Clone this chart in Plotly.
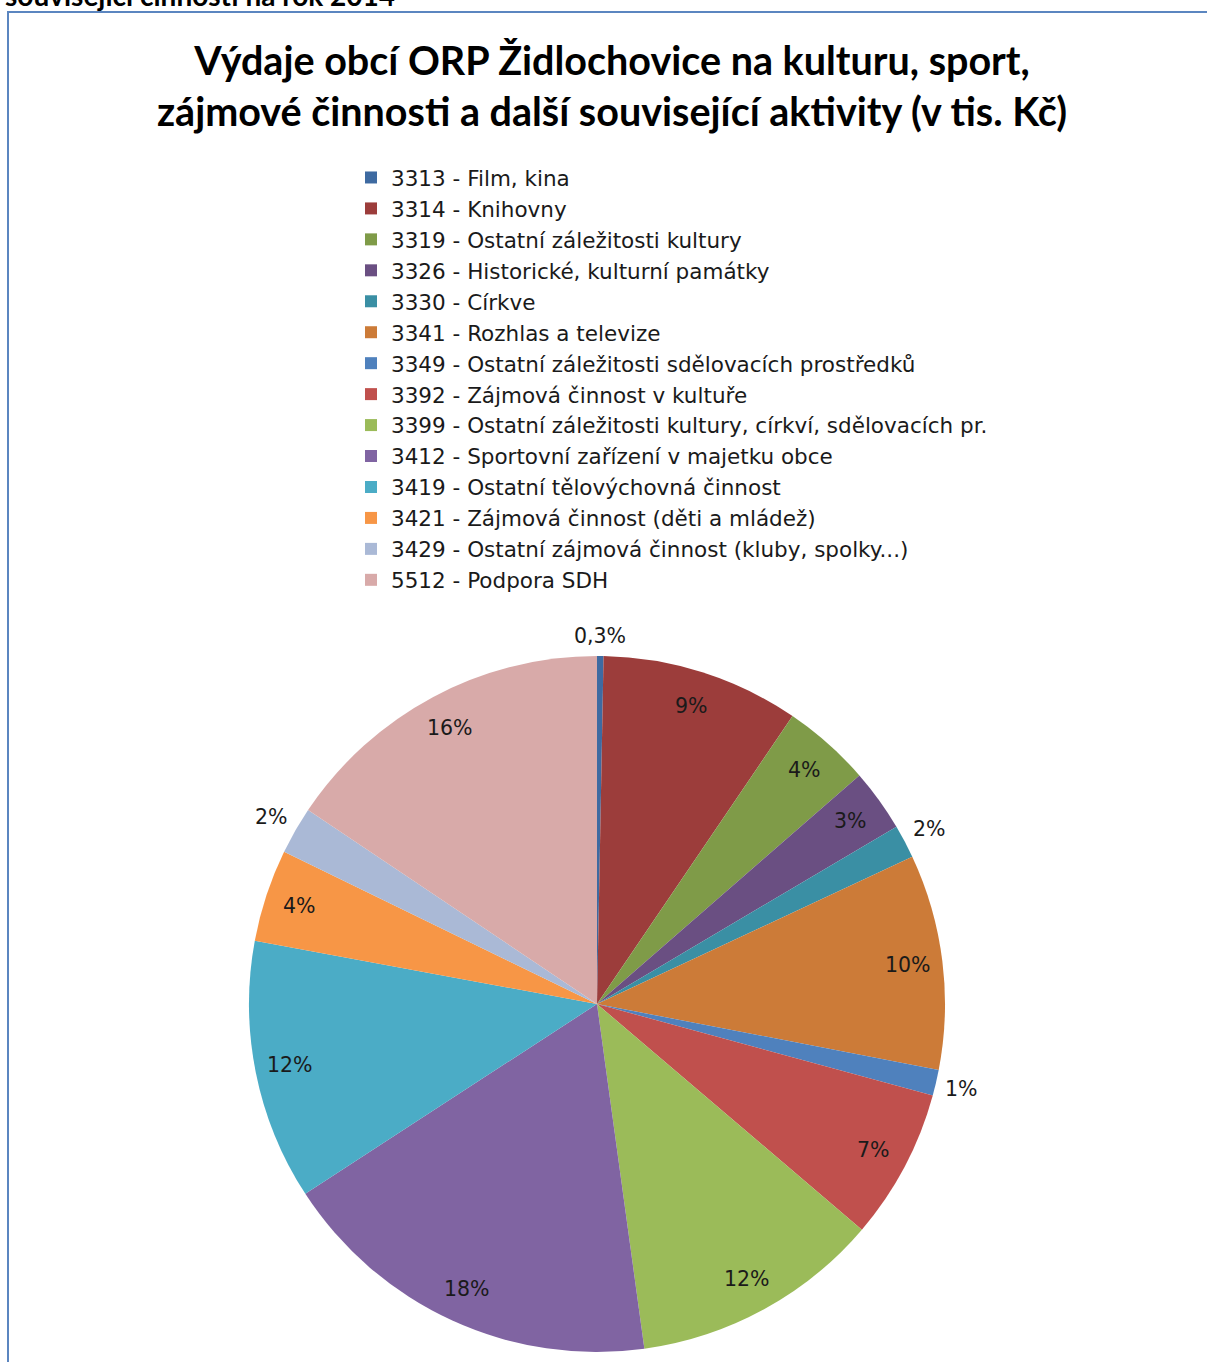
import math
import plotly.graph_objects as go

W, H = 1207, 1362

categories = [
    "3313 - Film, kina",
    "3314 - Knihovny",
    "3319 - Ostatní záležitosti kultury",
    "3326 - Historické, kulturní památky",
    "3330 - Církve",
    "3341 - Rozhlas a televize",
    "3349 - Ostatní záležitosti sdělovacích prostředků",
    "3392 - Zájmová činnost v kultuře",
    "3399 - Ostatní záležitosti kultury, církví, sdělovacích pr.",
    "3412 - Sportovní zařízení v majetku obce",
    "3419 - Ostatní tělovýchovná činnost",
    "3421 - Zájmová činnost (děti a mládež)",
    "3429 - Ostatní zájmová činnost (kluby, spolky...)",
    "5512 - Podpora SDH",
]
shares = [0.3, 9.2, 4.1, 2.9, 1.55, 10.0, 1.2, 7.0, 11.6, 18.0, 12.1, 4.3, 2.2, 15.6]
colors = ["#3E6AA1", "#9C3D3B", "#7F9B48", "#6A4F82", "#3A8FA4", "#CC7B38",
          "#4F81BD", "#C0504D", "#9BBB59", "#8064A2", "#4BACC6", "#F79646",
          "#AAB9D6", "#D8AAA9"]
label_outside = [True, False, False, False, True, False, True,
                 False, False, False, False, False, True, False]
label_decimals = [1] + [0] * 13

title_text = ("Výdaje obcí ORP Židlochovice na kulturu, sport,<br>"
              "zájmové činnosti a další související aktivity (v tis. Kč)")
top_text = "související činnosti na rok 2014"

TITLE_FONT = "Lato"
FONT = "DejaVu Sans"
LABEL_SIZE = 20.5

# pie placement (pixels)
PIE_CX, PIE_CY, PIE_R = 597, 1004, 348

fig = go.Figure()
fig.add_trace(go.Pie(
    labels=categories,
    values=shares,
    sort=False,
    direction="clockwise",
    rotation=0,
    marker=dict(colors=colors, line=dict(width=0)),
    textinfo="none",
    domain=dict(x=[(PIE_CX - PIE_R) / W, (PIE_CX + PIE_R) / W],
                y=[(H - PIE_CY - PIE_R) / H, (H - PIE_CY + PIE_R) / H]),
    hoverinfo="label+value+percent",
))

# data labels, positioned from the slice angles (Excel-style best fit)
total = sum(shares)
annotations = []
cum = 0.0
for v, outside, dec in zip(shares, label_outside, label_decimals):
    pct = v / total * 100
    mid = (cum + v / 2) / total * 2 * math.pi
    cum += v
    txt = (f"{pct:.{dec}f}".replace(".", ",") + "%") if dec else f"{int(pct + 0.5)}%"
    s, c = math.sin(mid), math.cos(mid)
    if outside:
        w_est = 11 * len(txt) + 10
        h_est = 24
        rad = PIE_R + 8 + (w_est / 2) * abs(s) + (h_est / 2) * abs(c)
    else:
        rad = 0.9 * PIE_R
    px = PIE_CX + rad * s
    py = PIE_CY - rad * c
    annotations.append(dict(text=txt, xref="paper", yref="paper",
                            x=px / W, y=1 - py / H, xanchor="center", yanchor="middle",
                            showarrow=False,
                            font=dict(family=FONT, size=LABEL_SIZE, color="#1a1a1a")))

annotations.append(dict(text="<b>" + top_text + "</b>", xref="paper", yref="paper",
                        x=0, xanchor="left", xshift=3, y=1 - 14 / H, yanchor="bottom",
                        showarrow=False,
                        font=dict(family=TITLE_FONT, size=28, color="black")))

fig.update_layout(
    width=W, height=H,
    margin=dict(l=0, r=0, t=0, b=0),
    paper_bgcolor="white",
    font=dict(family=FONT, color="#1a1a1a"),
    title=dict(text=title_text, x=612 / W, xanchor="center", y=1 - 75 / H, yanchor="middle",
               font=dict(family=TITLE_FONT, size=39.5, color="black", weight="bold")),
    legend=dict(x=351 / W, xanchor="left", y=1 - 157 / H, yanchor="top",
                font=dict(family=FONT, size=21.5, color="#1a1a1a"),
                bgcolor="rgba(0,0,0,0)", traceorder="normal"),
    shapes=[dict(type="rect", xref="paper", yref="paper",
                 x0=8 / W, x1=1.05, y0=-0.05, y1=1 - 12 / H,
                 line=dict(color="#5B86C0", width=2), fillcolor="rgba(0,0,0,0)")],
    annotations=annotations,
)

fig.write_html("out.html", config={"displayModeBar": False},
               post_script="document.body.style.margin='0';")
